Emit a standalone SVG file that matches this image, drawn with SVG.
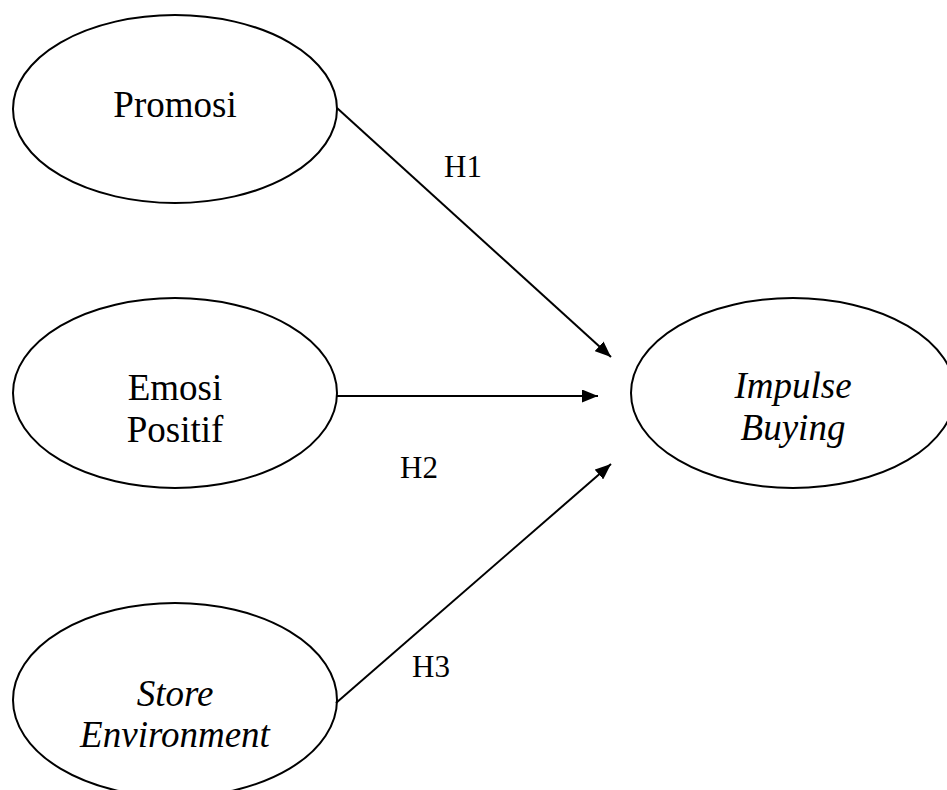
<svg xmlns="http://www.w3.org/2000/svg" width="947" height="790" viewBox="0 0 947 790">
<style>
.node ellipse{fill:#fff;stroke:#000;stroke-width:2}
.node text{font-family:"Liberation Serif","Times New Roman",serif;font-size:37px;fill:#000;text-anchor:middle}
.it{font-style:italic}
.conn line{stroke:#000;stroke-width:2}
.lbl{font-family:"Liberation Serif","Times New Roman",serif;font-size:31px;fill:#000}
</style>
<defs>
<marker id="ah" markerWidth="16" markerHeight="13" refX="16" refY="6.5" orient="auto" markerUnits="userSpaceOnUse">
<path d="M0,0 L16,6.5 L0,13 Z" fill="#000"/>
</marker>
</defs>
<rect width="947" height="790" fill="#fff"/>
<g id="promosi" class="node">
<ellipse cx="175" cy="109" rx="162" ry="94"/>
<text x="175" y="117">Promosi</text>
</g>
<g id="emosi-positif" class="node">
<ellipse cx="175" cy="393" rx="162" ry="95"/>
<text x="175" y="400">Emosi</text>
<text x="175" y="442">Positif</text>
</g>
<g id="store-environment" class="node">
<ellipse cx="175" cy="700" rx="162" ry="97"/>
<text class="it" x="175" y="706">Store</text>
<text class="it" x="175" y="747">Environment</text>
</g>
<g id="impulse-buying" class="node">
<ellipse cx="793" cy="393" rx="162" ry="95"/>
<text class="it" x="793" y="398">Impulse</text>
<text class="it" x="793" y="440">Buying</text>
</g>
<g id="connectors" class="conn">
<line x1="337" y1="108" x2="611" y2="357" marker-end="url(#ah)"/>
<line x1="337" y1="396" x2="598" y2="396" marker-end="url(#ah)"/>
<line x1="336" y1="703" x2="611" y2="464" marker-end="url(#ah)"/>
</g>
<g id="labels">
<text class="lbl" x="444" y="177">H1</text>
<text class="lbl" x="400" y="478">H2</text>
<text class="lbl" x="412" y="677">H3</text>
</g>
</svg>
